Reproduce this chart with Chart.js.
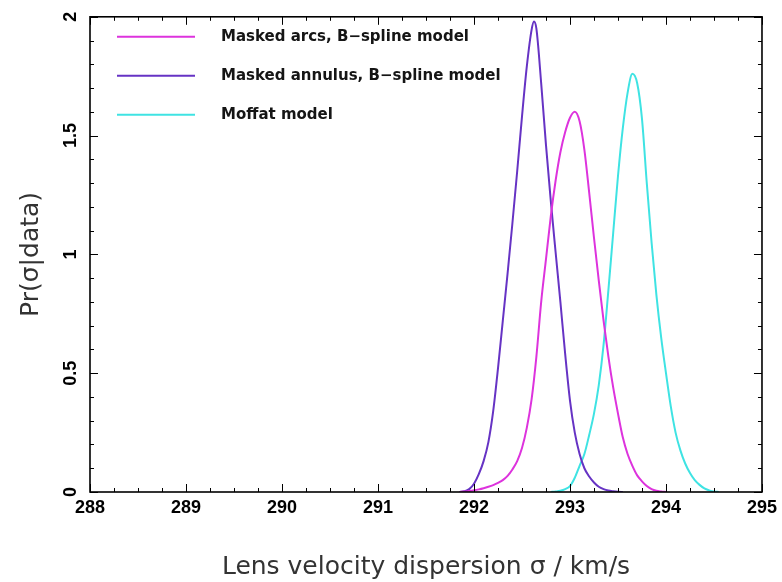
<!DOCTYPE html>
<html>
<head>
<meta charset="utf-8">
<script src="https://cdn.jsdelivr.net/npm/chart.js@4.4.1/dist/chart.umd.min.js"></script>
<style>
html,body{margin:0;padding:0;background:#fff;}
#wrap{width:782px;height:582px;position:relative;}
</style>
</head>
<body>
<div id="wrap"><canvas id="c" width="782" height="582"></canvas></div>
<script>
// ---- data ----
const seriesNames = ['Masked arcs, B\u2212spline model', 'Masked annulus, B\u2212spline model', 'Moffat model'];

const arcsX = [291.85,291.90,291.95,292.00,292.05,292.10,292.15,292.20,292.25,292.30,292.35,292.40,292.45,292.50,292.55,292.60,292.65,292.70,292.75,292.80,292.85,292.90,292.95,293.00,293.05,293.10,293.15,293.20,293.25,293.30,293.35,293.40,293.45,293.50,293.55,293.60,293.65,293.70,293.75,293.80,293.85,293.90,293.95,294.00];
const arcsY = [0.000,0.002,0.004,0.007,0.011,0.016,0.022,0.029,0.038,0.050,0.068,0.095,0.130,0.185,0.270,0.390,0.570,0.800,0.980,1.160,1.310,1.430,1.515,1.575,1.600,1.560,1.440,1.260,1.070,0.890,0.720,0.570,0.440,0.330,0.230,0.160,0.110,0.070,0.045,0.025,0.012,0.005,0.002,0.000];

const annulusX = [291.85,291.90,291.95,292.00,292.05,292.10,292.15,292.20,292.25,292.30,292.35,292.40,292.45,292.50,292.55,292.60,292.625,292.65,292.70,292.75,292.80,292.85,292.90,292.95,293.00,293.05,293.10,293.15,293.20,293.25,293.30,293.35,293.40,293.45,293.50,293.55];
const annulusY = [0.000,0.003,0.012,0.035,0.075,0.130,0.210,0.340,0.520,0.720,0.920,1.130,1.350,1.580,1.790,1.945,1.980,1.950,1.720,1.460,1.225,1.010,0.800,0.580,0.385,0.250,0.160,0.100,0.065,0.040,0.022,0.012,0.006,0.003,0.001,0.000];

const moffatX = [292.80,292.85,292.90,292.95,293.00,293.05,293.10,293.15,293.20,293.25,293.30,293.35,293.40,293.45,293.50,293.55,293.60,293.65,293.70,293.75,293.80,293.85,293.90,293.95,294.00,294.05,294.10,294.15,294.20,294.25,294.30,294.35,294.40,294.45,294.50,294.55];
const moffatY = [0.000,0.002,0.005,0.012,0.025,0.060,0.110,0.160,0.240,0.330,0.450,0.620,0.850,1.090,1.330,1.530,1.680,1.760,1.720,1.570,1.300,1.050,0.830,0.650,0.500,0.360,0.250,0.175,0.120,0.080,0.050,0.030,0.015,0.007,0.002,0.000];

const xRange = [288, 295];
const yRange = [0, 2];
const xMajorStep = 1, xMinorStep = 0.25;
const yMajorStep = 0.5, yMinorStep = 0.1;

// ---- build ----
function pts(xs, ys) { return xs.map((x, i) => ({x: x, y: ys[i]})); }

const frameTicks = {
  id: 'frameTicks',
  afterDatasetsDraw(chart) {
    const {ctx, chartArea: a, scales: {x, y}} = chart;
    ctx.save();
    ctx.strokeStyle = '#000';
    ctx.lineWidth = 1;
    ctx.beginPath();
    const nx = Math.round((x.max - x.min) / xMinorStep);
    for (let i = 0; i <= nx; i++) {
      const v = x.min + i * xMinorStep;
      const px = Math.round(x.getPixelForValue(v)) + 0.5;
      const L = (Math.abs(v / xMajorStep - Math.round(v / xMajorStep)) < 1e-6) ? 8 : 4;
      ctx.moveTo(px, a.bottom); ctx.lineTo(px, a.bottom - L);
      ctx.moveTo(px, a.top); ctx.lineTo(px, a.top + L);
    }
    const ny = Math.round((y.max - y.min) / yMinorStep);
    for (let i = 0; i <= ny; i++) {
      const v = y.min + i * yMinorStep;
      const py = Math.round(y.getPixelForValue(v)) + 0.5;
      const L = (Math.abs(v / yMajorStep - Math.round(v / yMajorStep)) < 1e-6) ? 8 : 4;
      ctx.moveTo(a.left, py); ctx.lineTo(a.left + L, py);
      ctx.moveTo(a.right, py); ctx.lineTo(a.right - L, py);
    }
    ctx.stroke();
    ctx.lineWidth = 1.6;
    ctx.strokeRect(a.left, a.top, a.right - a.left, a.bottom - a.top);

    // legend inside plot
    ctx.font = 'bold 15px "DejaVu Sans"';
    ctx.textBaseline = 'middle';
    ctx.textAlign = 'left';
    chart.data.datasets.forEach((ds, i) => {
      const yy = a.top + 20 + i * 39;
      ctx.strokeStyle = ds.borderColor;
      ctx.lineWidth = 2;
      ctx.beginPath();
      ctx.moveTo(a.left + 27, yy); ctx.lineTo(a.left + 105, yy);
      ctx.stroke();
      ctx.fillStyle = '#151515';
      ctx.fillText(ds.label, a.left + 131, yy);
    });
    ctx.restore();
  }
};

const tickFont = {family: 'Liberation Sans', size: 18, weight: 'bold'};
const titleFont = {family: 'DejaVu Sans', size: 25, weight: 'normal'};

new Chart(document.getElementById('c'), {
  type: 'line',
  data: {
    datasets: [
      {label: seriesNames[0], data: pts(arcsX, arcsY), borderColor: '#dd33dd', borderWidth: 2, pointRadius: 0, fill: false, cubicInterpolationMode: 'monotone'},
      {label: seriesNames[1], data: pts(annulusX, annulusY), borderColor: '#6633c4', borderWidth: 2, pointRadius: 0, fill: false, cubicInterpolationMode: 'monotone'},
      {label: seriesNames[2], data: pts(moffatX, moffatY), borderColor: '#3fe3e3', borderWidth: 2, pointRadius: 0, fill: false, cubicInterpolationMode: 'monotone'}
    ]
  },
  options: {
    responsive: false,
    animation: false,
    devicePixelRatio: 1,
    layout: {padding: {left: 0, right: 18, top: 12, bottom: 0}},
    plugins: {legend: {display: false}, tooltip: {enabled: false}},
    scales: {
      x: {
        type: 'linear', min: xRange[0], max: xRange[1],
        ticks: {stepSize: xMajorStep, autoSkip: false, maxRotation: 0, padding: 5, font: tickFont, color: '#000'},
        grid: {display: false, drawTicks: false},
        border: {display: false},
        title: {display: true, text: 'Lens velocity dispersion \u03c3 / km/s', font: titleFont, color: '#333', padding: {top: 0, bottom: 0}},
        afterFit(s) { s.height = 90; }
      },
      y: {
        type: 'linear', min: yRange[0], max: yRange[1],
        ticks: {stepSize: yMajorStep, minRotation: 90, maxRotation: 90, crossAlign: 'center', padding: 6, font: tickFont, color: '#000',
                callback: (v) => String(Math.round(v * 10) / 10)},
        grid: {display: false, drawTicks: false},
        border: {display: false},
        title: {display: true, text: 'Pr(\u03c3|data)', font: titleFont, color: '#333', padding: {top: 16, bottom: 0}},
        afterFit(s) { s.width = 90; }
      }
    }
  },
  plugins: [frameTicks]
});
</script>
</body>
</html>
